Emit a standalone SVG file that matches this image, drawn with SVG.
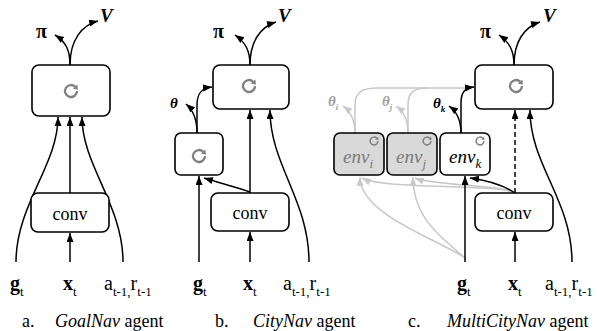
<svg xmlns="http://www.w3.org/2000/svg" width="597" height="331" viewBox="0 0 597 331">
<defs>
<marker id="ah" markerUnits="userSpaceOnUse" markerWidth="10" markerHeight="8" refX="9" refY="3.5" orient="auto"><path d="M0,0 L9,3.5 L0,7 z" fill="#000"/></marker>
<marker id="ahg" markerUnits="userSpaceOnUse" markerWidth="10" markerHeight="8" refX="9" refY="3.5" orient="auto"><path d="M0,0 L9,3.5 L0,7 z" fill="#c8c8c8"/></marker>
<g id="ico"><path d="M6,0 A6,6 0 1 1 4.2,-4.3" fill="none" stroke="#808080" stroke-width="2.3"/><path d="M6.4,-6.6 L6.9,-1.2 L1.8,-2.6 z" fill="#808080"/></g>
</defs>
<style>
.box{fill:#fff;stroke:#000;stroke-width:1.6}
.gbox{fill:#d9d9d9;stroke:#000;stroke-width:1.6}
.arr{fill:none;stroke:#000;stroke-width:1.5;marker-end:url(#ah)}
.garr{fill:none;stroke:#c8c8c8;stroke-width:1.5;marker-end:url(#ahg)}
.gln{fill:none;stroke:#c8c8c8;stroke-width:1.5}
text{font-family:'Liberation Serif',serif !important}
.out{font-size:20px;font-weight:bold}
.v{font-size:19px;font-weight:bold;font-style:italic}
.th{font-size:15px;font-weight:bold;font-style:italic}
.conv{font-size:18px;text-anchor:middle}
.env{font-size:19px;font-style:italic}
.gt{fill:#7a7a7a}
.gth{fill:#a0a0a0}
.in{font-size:20px}
.cap{font-size:18px}
</style>

<g id="connectors">
<path class="arr" d="M70,65 C70,50 66,42 55,35"/>
<path class="arr" d="M70,65 C70,40 82,25 98,21"/>
<path class="arr" d="M16,262 C16,205 58,165 58,117"/>
<path class="arr" d="M70,193 L70,117"/>
<path class="arr" d="M123,262 C123,205 82,165 82,117"/>
<path class="arr" d="M70,262 L70,233"/>
<path class="arr" d="M250,65 C250,50 245,42 235,35"/>
<path class="arr" d="M250,65 C250,42 260,27 276,22"/>
<path class="arr" d="M197,133 C197,118 193,110 186,104"/>
<path class="arr" d="M197,133 L197,105 C197,93 202,88 212,87"/>
<path class="arr" d="M250,193 L250,110"/>
<path class="arr" d="M309,262 C309,200 270,165 270,110"/>
<path class="arr" d="M199,262 L199,176"/>
<path class="arr" d="M250,192 C240,188 220,183 204,178"/>
<path class="arr" d="M250,262 L250,232"/>
<path class="gln" d="M355,133 L355,105 C355,92 362,88 378,88 L470,88"/>
<path class="gln" d="M408,133 L408,105 C408,92 414,88 428,88"/>
<path class="garr" d="M355,133 C355,118 350,111 343,106"/>
<path class="garr" d="M408,133 C408,118 403,111 396,106"/>
<path class="garr" d="M465,258 C440,240 360,215 360,177"/>
<path class="garr" d="M465,258 C445,240 413,220 413,177"/>
<path class="garr" d="M515,193 C495,183 385,190 362,178"/>
<path class="garr" d="M515,193 C498,184 435,186 415,178"/>
<path class="arr" d="M514,65 C514,50 509,42 499,35"/>
<path class="arr" d="M514,65 C514,42 524,27 540,22"/>
<path class="arr" d="M461,133 L461,103 C461,92 465,88 474,87"/>
<path class="arr" d="M461,133 C461,118 456,111 449,106"/>
<path class="arr" d="M465,262 L465,176"/>
<path class="arr" d="M515,193 C503,185 485,180 470,178"/>
<path class="arr" d="M515,193 L515,110" stroke-dasharray="5,3"/>
<path class="arr" d="M572,262 C572,200 530,165 530,110"/>
<path class="arr" d="M515,262 L515,232"/>
</g>

<g id="a-lstm"><rect class="box" x="32" y="65" width="78" height="51" rx="7"/><use href="#ico" x="71" y="91"/></g>
<g id="a-conv"><rect class="box" x="31" y="193" width="78" height="39" rx="7"/><text style="font-family:'Liberation Serif',serif" class="conv" x="70" y="220">conv</text></g>
<g id="a-out"><text style="font-family:'Liberation Serif',serif" class="out" x="36" y="38">π</text><text style="font-family:'Liberation Serif',serif" class="v" x="100" y="22">V</text></g>
<g id="a-in">
<text style="font-family:'Liberation Serif',serif" class="in" x="10" y="290" font-weight="bold">g<tspan font-size="13" font-weight="normal" dy="6">t</tspan></text>
<text style="font-family:'Liberation Serif',serif" class="in" x="63" y="290" font-weight="bold">x<tspan font-size="13" font-weight="normal" dy="6">t</tspan></text>
<text style="font-family:'Liberation Serif',serif" class="in" x="104" y="290">a<tspan font-size="13" dy="6">t-1,</tspan><tspan dy="-6">r</tspan><tspan font-size="13" dy="6">t-1</tspan></text>
</g>
<g id="a-cap"><text style="font-family:'Liberation Serif',serif" class="cap" x="22" y="327">a.</text><text style="font-family:'Liberation Serif',serif" class="cap" x="55" y="327"><tspan font-style="italic">GoalNav</tspan> agent</text></g>

<g id="b-lstm"><rect class="box" x="213" y="65" width="76" height="44" rx="7"/><use href="#ico" x="249" y="86"/></g>
<g id="b-small"><rect class="box" x="175" y="133" width="48" height="42" rx="6"/><use href="#ico" x="199" y="156"/></g>
<g id="b-conv"><rect class="box" x="211" y="193" width="78" height="38" rx="7"/><text style="font-family:'Liberation Serif',serif" class="conv" x="250" y="219">conv</text></g>
<g id="b-out"><text style="font-family:'Liberation Serif',serif" class="out" x="213" y="38">π</text><text style="font-family:'Liberation Serif',serif" class="v" x="278" y="22">V</text><text style="font-family:'Liberation Serif',serif" class="th" x="170" y="108">θ</text></g>
<g id="b-in">
<text style="font-family:'Liberation Serif',serif" class="in" x="193" y="290" font-weight="bold">g<tspan font-size="13" font-weight="normal" dy="6">t</tspan></text>
<text style="font-family:'Liberation Serif',serif" class="in" x="243" y="290" font-weight="bold">x<tspan font-size="13" font-weight="normal" dy="6">t</tspan></text>
<text style="font-family:'Liberation Serif',serif" class="in" x="283" y="290">a<tspan font-size="13" dy="6">t-1,</tspan><tspan dy="-6">r</tspan><tspan font-size="13" dy="6">t-1</tspan></text>
</g>
<g id="b-cap"><text style="font-family:'Liberation Serif',serif" class="cap" x="215" y="327">b.</text><text style="font-family:'Liberation Serif',serif" class="cap" x="253" y="327"><tspan font-style="italic">CityNav</tspan> agent</text></g>

<g id="c-lstm"><rect class="box" x="475" y="65" width="78" height="44" rx="7"/><use href="#ico" x="516" y="86"/></g>
<g id="c-env-i"><rect class="gbox" x="334" y="133" width="50" height="42" rx="6"/><use href="#ico" transform="translate(374,141) scale(0.65)"/><text style="font-family:'Liberation Serif',serif" class="env gt" x="343" y="163">env<tspan font-size="13" dy="5">i</tspan></text></g>
<g id="c-env-j"><rect class="gbox" x="387" y="133" width="50" height="42" rx="6"/><use href="#ico" transform="translate(427,141) scale(0.65)"/><text style="font-family:'Liberation Serif',serif" class="env gt" x="396" y="163">env<tspan font-size="13" dy="5">j</tspan></text></g>
<g id="c-env-k"><rect class="box" x="440" y="133" width="50" height="42" rx="6"/><use href="#ico" transform="translate(480,141) scale(0.65)"/><text style="font-family:'Liberation Serif',serif" class="env" x="449" y="163">env<tspan font-size="13" dy="5">k</tspan></text></g>
<g id="c-conv"><rect class="box" x="475" y="193" width="78" height="38" rx="7"/><text style="font-family:'Liberation Serif',serif" class="conv" x="514" y="219">conv</text></g>
<g id="c-out"><text style="font-family:'Liberation Serif',serif" class="out" x="480" y="38">π</text><text style="font-family:'Liberation Serif',serif" class="v" x="543" y="22">V</text>
<text style="font-family:'Liberation Serif',serif" class="th gth" x="328" y="106">θ<tspan font-size="9" dy="4">i</tspan></text>
<text style="font-family:'Liberation Serif',serif" class="th gth" x="382" y="106">θ<tspan font-size="9" dy="4">j</tspan></text>
<text style="font-family:'Liberation Serif',serif" class="th" x="433" y="108">θ<tspan font-size="9" dy="4">k</tspan></text></g>
<g id="c-in">
<text style="font-family:'Liberation Serif',serif" class="in" x="457" y="290" font-weight="bold">g<tspan font-size="13" font-weight="normal" dy="6">t</tspan></text>
<text style="font-family:'Liberation Serif',serif" class="in" x="508" y="290" font-weight="bold">x<tspan font-size="13" font-weight="normal" dy="6">t</tspan></text>
<text style="font-family:'Liberation Serif',serif" class="in" x="545" y="290">a<tspan font-size="13" dy="6">t-1,</tspan><tspan dy="-6">r</tspan><tspan font-size="13" dy="6">t-1</tspan></text>
</g>
<g id="c-cap"><text style="font-family:'Liberation Serif',serif" class="cap" x="408" y="327">c.</text><text style="font-family:'Liberation Serif',serif" class="cap" x="447" y="327"><tspan font-style="italic">MultiCityNav</tspan> agent</text></g>
</svg>
